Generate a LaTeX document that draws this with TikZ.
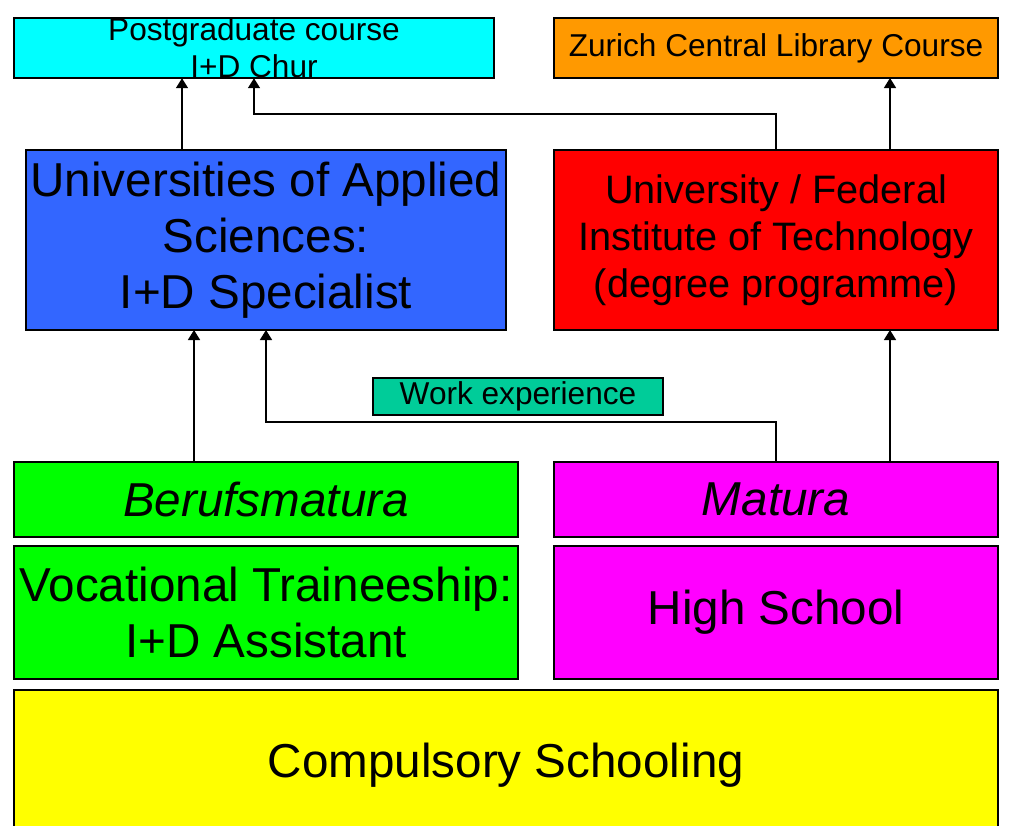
\documentclass[tikz,border=0pt]{standalone}
\usepackage{fontspec}
\setmainfont{Liberation Sans}
\usetikzlibrary{arrows.meta}
\definecolor{churcyan}{HTML}{00FFFF}
\definecolor{libraryorange}{HTML}{FF9900}
\definecolor{fhblue}{HTML}{3366FF}
\definecolor{unired}{HTML}{FF0000}
\definecolor{workteal}{HTML}{00CC99}
\definecolor{vocgreen}{HTML}{00FF00}
\definecolor{gymmagenta}{HTML}{FF00FF}
\definecolor{schoolyellow}{HTML}{FFFF00}

\begin{document}
\begin{tikzpicture}[x=1pt,y=-1pt,line width=1.5pt,
  box/.style={draw=black,rectangle,anchor=north west,inner sep=0pt,outer sep=0pt,align=center},
  arr/.style={-{Triangle[width=12pt,length=10pt]},line width=1.5pt},
  bigtext/.style={font=\fontsize{47.6}{56}\selectfont},
  midtext/.style={font=\fontsize{39.7}{47}\selectfont},
  smalltext/.style={font=\fontsize{31.6}{37}\selectfont}]
\useasboundingbox (0,0) rectangle (1011,825);
\clip (0,0) rectangle (1011,825);
% top row
\node[box,smalltext,fill=churcyan,minimum width=480pt,minimum height=60pt] (chur) at (14,18) {Postgraduate course\\I+D Chur};
\node[box,smalltext,fill=libraryorange,minimum width=444pt,minimum height=60pt] (zcl) at (554,18) {Zurich Central Library Course};
% universities
\node[box,bigtext,fill=fhblue,minimum width=480pt,minimum height=180pt] (uas) at (26,150) {Universities of Applied\\Sciences:\\I+D Specialist};
\node[box,midtext,fill=unired,minimum width=444pt,minimum height=180pt] (univ) at (554,150) {University / Federal\\Institute of Technology\\(degree programme)};
\node[box,smalltext,fill=workteal,minimum width=290pt,minimum height=37pt] (work) at (373,378) {Work experience};
% secondary level
\node[box,bigtext,fill=vocgreen,minimum width=504pt,minimum height=75pt] (bmat) at (14,462) {\textit{Berufsmatura}};
\node[box,bigtext,fill=gymmagenta,minimum width=444pt,minimum height=75pt] (matura) at (554,462) {\textit{Matura}};
\node[box,bigtext,fill=vocgreen,minimum width=504pt,minimum height=133pt] (voc) at (14,546) {Vocational Traineeship:\\I+D Assistant};
\node[box,bigtext,fill=gymmagenta,minimum width=444pt,minimum height=133pt] (high) at (554,546) {High School};
\node[box,bigtext,fill=schoolyellow,minimum width=984pt,minimum height=150pt] (comp) at (14,690) {Compulsory Schooling};
% arrows
\draw[arr] ([xshift=-72pt]bmat.north) -- ([xshift=-72pt]uas.south);
\draw[arr] (matura.north) -- ++(0,-40) -| (uas.south);
\draw[arr] ([xshift=114pt]matura.north) -- ([xshift=114pt]univ.south);
\draw[arr] ([xshift=-84pt]uas.north) -- ([xshift=-72pt]chur.south);
\draw[arr] (univ.north) -- ++(0,-36) -| (chur.south);
\draw[arr] ([xshift=114pt]univ.north) -- ([xshift=114pt]zcl.south);
\end{tikzpicture}
\end{document}
